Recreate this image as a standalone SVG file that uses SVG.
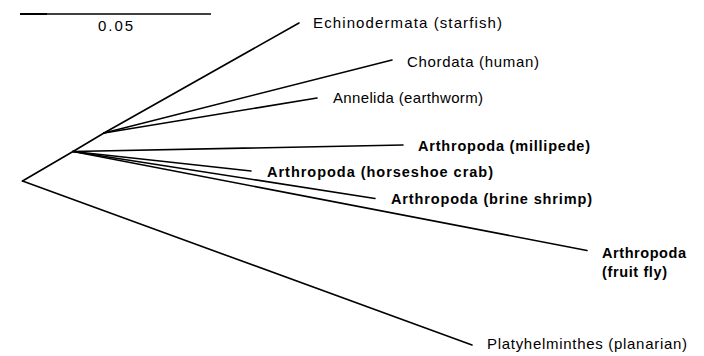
<svg xmlns="http://www.w3.org/2000/svg" width="704" height="356" viewBox="0 0 704 356">
<style>
.br{stroke:#000;stroke-width:1.6;fill:none;stroke-linecap:round}
text{font-family:"Liberation Sans",Arial,sans-serif;font-size:15px;fill:#000}
.lt{font-weight:normal}
.bd{font-weight:bold;font-size:14.5px}
</style>
<rect width="704" height="356" fill="#fff"/>
<g id="scale">
<line x1="20" y1="14" x2="211" y2="14" stroke="#000" stroke-width="1.5"/>
<line x1="20" y1="14" x2="47" y2="14" stroke="#000" stroke-width="2"/>
<text x="98" y="31" textLength="35" lengthAdjust="spacing" class="lt">0.05</text>
</g>
<g id="connectors">
<line class="br" x1="22.5" y1="181" x2="73" y2="151.5"/>
<line class="br" x1="73" y1="151.5" x2="104" y2="133"/>
<line class="br" x1="104" y1="133" x2="299" y2="23"/>
<line class="br" x1="104" y1="133" x2="392" y2="60"/>
<line class="br" x1="104" y1="133" x2="317" y2="98"/>
<line class="br" x1="73" y1="151.5" x2="403" y2="145"/>
<line class="br" x1="73" y1="151.5" x2="251" y2="171"/>
<line class="br" x1="73" y1="151.5" x2="375" y2="198.5"/>
<line class="br" x1="73" y1="151.5" x2="587" y2="250.5" stroke-width="1.9"/>
<line class="br" x1="22.5" y1="181" x2="472" y2="345"/>
</g>
<g id="echinodermata"><text x="313" y="28" textLength="189" lengthAdjust="spacing" class="lt">Echinodermata (starfish)</text></g>
<g id="chordata"><text x="407" y="67" textLength="132" lengthAdjust="spacing" class="lt">Chordata (human)</text></g>
<g id="annelida"><text x="333" y="103" textLength="150" lengthAdjust="spacing" class="lt">Annelida (earthworm)</text></g>
<g id="millipede"><text x="418" y="151" textLength="172" lengthAdjust="spacing" class="bd">Arthropoda (millipede)</text></g>
<g id="horseshoe"><text x="267" y="177" textLength="226" lengthAdjust="spacing" class="bd">Arthropoda (horseshoe crab)</text></g>
<g id="brine"><text x="391" y="204" textLength="201" lengthAdjust="spacing" class="bd">Arthropoda (brine shrimp)</text></g>
<g id="fruitfly">
<text x="602" y="258" textLength="84" lengthAdjust="spacing" class="bd">Arthropoda</text>
<text x="602" y="277" textLength="65" lengthAdjust="spacing" class="bd">(fruit fly)</text>
</g>
<g id="platyhelminthes"><text x="487" y="349" textLength="200" lengthAdjust="spacing" class="lt">Platyhelminthes (planarian)</text></g>
</svg>
